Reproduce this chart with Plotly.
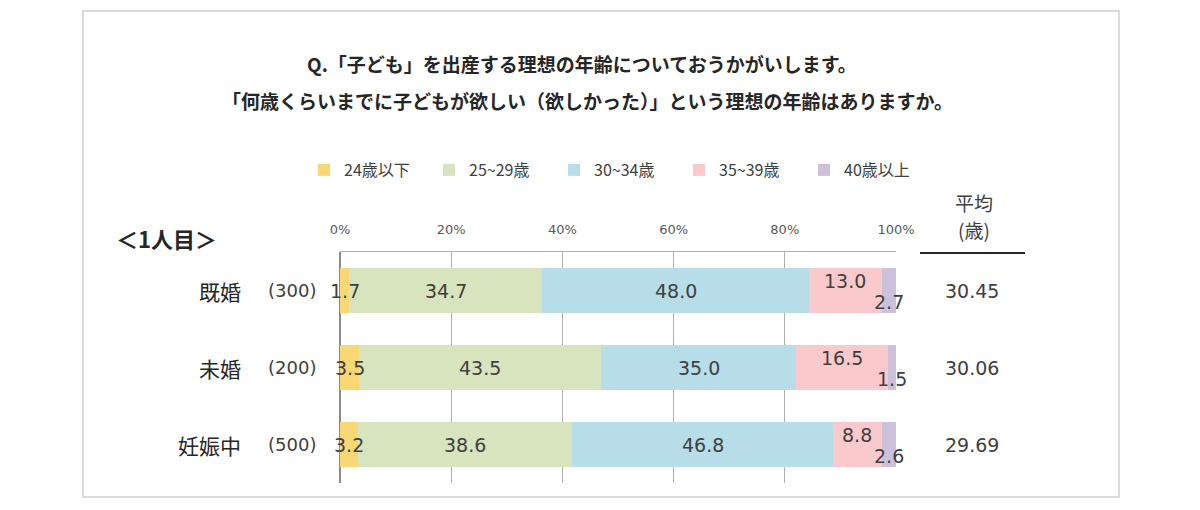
import plotly.graph_objects as go

# data
categories = ["既婚", "未婚", "妊娠中"]
sample_sizes = ["(300)", "(200)", "(500)"]
series_names = ["24歳以下", "25~29歳", "30~34歳", "35~39歳", "40歳以上"]
age_24_under = [1.7, 3.5, 3.2]
age_25_29 = [34.7, 43.5, 38.6]
age_30_34 = [48.0, 35.0, 46.8]
age_35_39 = [13.0, 16.5, 8.8]
age_40_over = [2.7, 1.5, 2.6]
averages = ["30.45", "30.06", "29.69"]
x_ticks = [0, 20, 40, 60, 80, 100]
x_tick_labels = ["0%", "20%", "40%", "60%", "80%", "100%"]

series_values = [age_24_under, age_25_29, age_30_34, age_35_39, age_40_over]
colors = ["#F8D775", "#D7E4BD", "#B7DDE8", "#F9C9CC", "#CCC1DA"]
label_shift = [0, 0, 0, 10, -11]

W, H = 1200, 510
JP = "Noto Sans CJK JP"
NUM = "DejaVu Sans"
TXT = "#404040"
DARK = "#262626"


def px(x):
    return x / W


def py(y):
    return 1 - y / H


fig = go.Figure()
for name, vals, col in zip(series_names, series_values, colors):
    fig.add_trace(go.Bar(
        y=categories, x=vals, name=name, orientation="h",
        marker=dict(color=col, line=dict(width=0)),
        width=0.585, hoverinfo="skip",
    ))

annotations = []

# segment labels, centred on each segment
for i, cat in enumerate(categories):
    start = 0
    for s, vals in enumerate(series_values):
        v = vals[i]
        annotations.append(dict(
            x=start + v / 2, y=cat, xref="x", yref="y",
            xanchor="center", yanchor="middle",
            text=f"{v:.1f}", showarrow=False, yshift=label_shift[s],
            font=dict(family=NUM, size=19, color=TXT),
        ))
        start += v
    # category name, sample size, average
    annotations.append(dict(
        x=px(243), y=cat, xref="paper", yref="y", xanchor="right", yanchor="middle",
        text=cat, showarrow=False, font=dict(family=JP, size=21, color=DARK),
    ))
    annotations.append(dict(
        x=px(292), y=cat, xref="paper", yref="y", xanchor="center", yanchor="middle",
        text=sample_sizes[i], showarrow=False,
        font=dict(family=NUM, size=18, color=TXT),
    ))
    annotations.append(dict(
        x=px(972), y=cat, xref="paper", yref="y", xanchor="center", yanchor="middle",
        text=averages[i], showarrow=False,
        font=dict(family=NUM, size=19, color=TXT),
    ))

# titles and headers
annotations += [
    dict(x=px(582), y=py(63), xref="paper", yref="paper",
         xanchor="center", yanchor="middle",
         text="<b>Q.「子ども」を出産する理想の年齢についておうかがいします。</b>",
         showarrow=False, font=dict(family=JP, size=19, color=DARK)),
    dict(x=px(587), y=py(101), xref="paper", yref="paper",
         xanchor="center", yanchor="middle",
         text="<b>「何歳くらいまでに子どもが欲しい（欲しかった）」という理想の年齢はありますか。</b>",
         showarrow=False, font=dict(family=JP, size=19, color=DARK)),
    dict(x=px(114), y=py(238), xref="paper", yref="paper",
         xanchor="left", yanchor="middle",
         text="<b>＜1人目＞</b>", showarrow=False,
         font=dict(family=JP, size=22, color=DARK)),
    dict(x=px(974), y=py(203), xref="paper", yref="paper",
         xanchor="center", yanchor="middle",
         text="平均", showarrow=False, font=dict(family=JP, size=19, color=TXT)),
    dict(x=px(974), y=py(230), xref="paper", yref="paper",
         xanchor="center", yanchor="middle",
         text="(歳)", showarrow=False, font=dict(family=JP, size=19, color=TXT)),
]

shapes = [
    # outer frame
    dict(type="rect", xref="paper", yref="paper",
         x0=px(83), x1=px(1119), y0=py(11), y1=py(497),
         line=dict(color="#D0D0D0", width=1.5)),
    # underline under the average header
    dict(type="line", xref="paper", yref="paper",
         x0=px(920), x1=px(1025), y0=py(253), y1=py(253),
         line=dict(color=DARK, width=2)),
]

fig.update_layout(
    width=W, height=H, autosize=False,
    margin=dict(l=0, r=0, t=0, b=0, autoexpand=False),
    paper_bgcolor="white", plot_bgcolor="white",
    barmode="stack",
    showlegend=True,
    legend=dict(
        orientation="h", x=px(304), y=py(170), xanchor="left", yanchor="middle",
        font=dict(family=JP, size=16, color=TXT),
        itemwidth=30, entrywidth=80, entrywidthmode="pixels",
        traceorder="normal", bgcolor="rgba(0,0,0,0)",
    ),
    xaxis=dict(
        domain=[px(340), px(896)], range=[0, 100], side="top",
        tickvals=x_ticks, ticktext=x_tick_labels,
        tickfont=dict(family=NUM, size=13, color="#595959"),
        ticks="outside", ticklen=12, tickcolor="rgba(0,0,0,0)",
        showgrid=True, gridcolor="#B0B0B0", gridwidth=1,
        zeroline=True, zerolinecolor="#8A8A8A", zerolinewidth=1.5,
        showline=True, linecolor="#B0B0B0", linewidth=1,
        automargin=False, fixedrange=True,
    ),
    yaxis=dict(
        domain=[py(483), py(252)], autorange="reversed",
        showticklabels=False, showgrid=False, zeroline=False,
        categoryorder="array", categoryarray=categories,
        automargin=False, fixedrange=True,
    ),
    annotations=annotations,
    shapes=shapes,
)

fig.write_html(
    "out.html",
    config={"displayModeBar": False, "staticPlot": True},
    post_script="document.body.style.margin='0';document.body.style.overflow='hidden';",
)
